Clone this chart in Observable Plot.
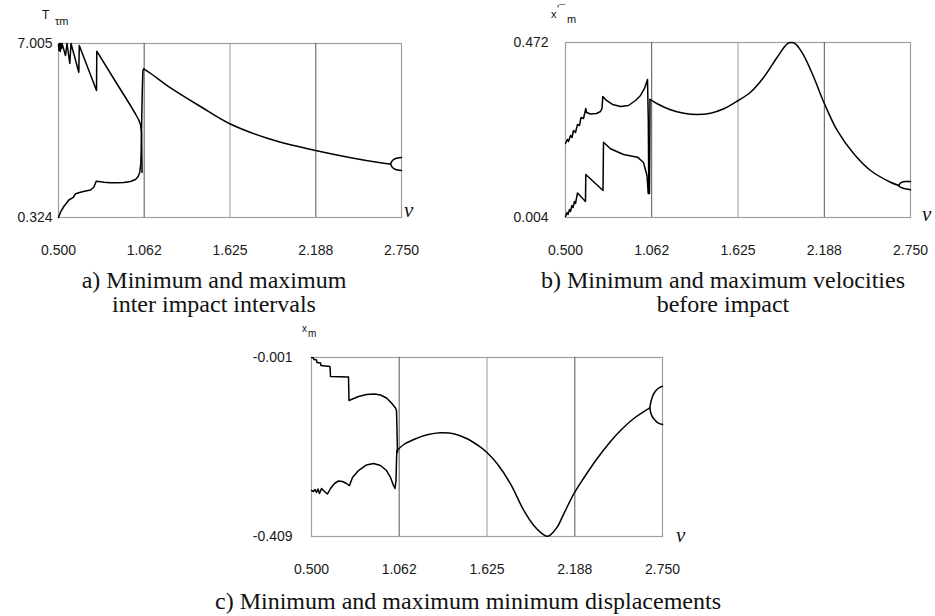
<!DOCTYPE html>
<html><head><meta charset="utf-8">
<script src="https://cdn.jsdelivr.net/npm/d3@7"></script>
<script src="https://cdn.jsdelivr.net/npm/@observablehq/plot@0.6"></script>
<style>
body{margin:0;background:#fff;}
#root{position:relative;width:935px;height:616px;overflow:hidden;font-family:"Liberation Sans",Arial,sans-serif;}
.panel{position:absolute;}
.cap{position:absolute;font-family:"Liberation Serif","Times New Roman",serif;font-size:24px;line-height:24px;text-align:center;white-space:nowrap;color:#111;}
.nu{position:absolute;font-family:"Liberation Serif",serif;font-style:italic;font-size:21px;line-height:21px;color:#111;}
.yl{position:absolute;font-family:"Liberation Sans",Arial,sans-serif;color:#111;white-space:nowrap;}
</style></head><body><div id="root"></div>
<script>
// ---- shared axis values ----
const xDomain = [0.5, 2.75];
const xTicks = [0.5, 1.062, 1.625, 2.188, 2.75];
const gridDark = [1.062, 2.188];
const gridLight = [1.625];

// ---- panel a: inter impact intervals T_tau_m ----
const aYDomain = [0.324, 7.005];
const aMaxLeft = [[0.5,6.967],[0.5039,6.736],[0.5079,7.005],[0.5118,6.698],[0.5157,7.005],[0.5197,6.813],[0.523,7.005],[0.5459,6.544],[0.5558,7.005],[0.5741,6.237],[0.582,7.005],[0.6332,5.903],[0.6364,6.928],[0.7493,5.2],[0.7512,6.71],[0.8739,5.546],[0.9723,4.624],[1.0051,4.298],[1.0248,4.087],[1.0379,3.895],[1.0445,3.588],[1.0464,2.897],[1.0484,2.052]];
const aMinLeft = [[0.5,0.324],[0.5131,0.5275],[0.5348,0.7464],[0.5571,0.9115],[0.5676,0.996],[0.5787,1.034],[0.5984,1.111],[0.6115,1.234],[0.6443,1.295],[0.6771,1.341],[0.7099,1.38],[0.7316,1.487],[0.7473,1.718],[0.7644,1.706],[0.7972,1.679],[0.8411,1.656],[0.8851,1.656],[0.9284,1.668],[0.9723,1.706],[1.0051,1.783],[1.0228,1.898],[1.0333,2.063],[1.0399,2.386],[1.0425,2.897],[1.0458,4.048],[1.0497,5.2],[1.0536,5.968],[1.0596,6.034]];
const aRight = [[1.0596,6.034],[1.1147,5.815],[1.213,5.392],[1.4315,4.586],[1.6237,3.922],[1.869,3.369],[2.186,2.897],[2.612,2.424],[2.678,2.378]];
const aBifUp = [[2.678,2.378],[2.691,2.513],[2.711,2.59],[2.75,2.628]];
const aBifLo = [[2.678,2.378],[2.691,2.244],[2.711,2.167],[2.75,2.129]];

// ---- panel b: velocities before impact x'-_m ----
const bYDomain = [0.004, 0.472];
const bMaxLeft = [[0.5,0.202],[0.513,0.213],[0.5196,0.2072],[0.5326,0.2233],[0.5424,0.2179],[0.5522,0.2367],[0.5652,0.2313],[0.5783,0.2527],[0.5913,0.25],[0.6011,0.2714],[0.6174,0.2688],[0.6324,0.2955],[0.637,0.2848],[0.663,0.2808],[0.7022,0.2821],[0.7283,0.2875],[0.738,0.2955],[0.7433,0.3276],[0.7674,0.3169],[0.8065,0.3062],[0.8587,0.3009],[0.9109,0.3035],[0.9565,0.3169],[0.9891,0.3303],[1.0152,0.349],[1.0348,0.3731],[1.04,0.2634],[1.0433,0.0682]];
const bMinLeft = [[0.5,0.0067],[0.5098,0.0174],[0.5163,0.012],[0.5261,0.0254],[0.5326,0.02],[0.5424,0.0361],[0.5489,0.0307],[0.5587,0.0468],[0.5652,0.0414],[0.5783,0.0695],[0.6304,0.0468],[0.6324,0.119],[0.7446,0.0762],[0.7478,0.2054],[0.7935,0.1877],[0.8783,0.1725],[0.9696,0.1653],[1.0087,0.1511],[1.0315,0.1163],[1.0394,0.0682],[1.0478,0.0682],[1.0511,0.3196]];
const bRight = [[1.0511,0.3196],[1.098,0.3081],[1.1848,0.292],[1.2715,0.2829],[1.3589,0.2795],[1.4457,0.2829],[1.5324,0.2947],[1.6263,0.3169],[1.7065,0.3391],[1.7933,0.3792],[1.8807,0.4327],[1.9459,0.4685],[1.972,0.472],[2.0,0.4685],[2.0541,0.4372],[2.1193,0.3792],[2.1846,0.3123],[2.272,0.2367],[2.3802,0.1744],[2.4891,0.1297],[2.6196,0.0984],[2.6737,0.0896]];
const bBifUp = [[2.6737,0.0896],[2.6815,0.095],[2.6978,0.0989],[2.7239,0.1003],[2.75,0.1003]];
const bBifLo = [[2.6737,0.0896],[2.6815,0.0856],[2.6978,0.0829],[2.7239,0.0802],[2.75,0.0781]];

// ---- panel c: minimum displacements x_m ----
const cYDomain = [-0.409, -0.001];
const cMaxLeft = [[0.5,-0.001],[0.5128,-0.0021],[0.516,-0.0056],[0.5321,-0.0067],[0.5353,-0.0124],[0.5577,-0.0135],[0.5609,-0.0192],[0.6186,-0.0215],[0.6218,-0.0443],[0.7372,-0.0454],[0.7404,-0.099],[0.7628,-0.0956],[0.8013,-0.0899],[0.8526,-0.0853],[0.9038,-0.0842],[0.9423,-0.0865],[0.9808,-0.0933],[1.0128,-0.1047],[1.0385,-0.1161],[1.0449,-0.1218],[1.0481,-0.1674],[1.0513,-0.2175]];
const cMinLeft = [[0.5,-0.3042],[0.5128,-0.3064],[0.5224,-0.3019],[0.5321,-0.3087],[0.5417,-0.3007],[0.5513,-0.311],[0.5641,-0.2996],[0.5833,-0.3064],[0.6026,-0.3121],[0.6218,-0.2996],[0.6474,-0.2882],[0.6731,-0.2825],[0.6987,-0.2836],[0.7244,-0.2882],[0.7436,-0.2928],[0.7628,-0.2745],[0.8013,-0.2586],[0.8526,-0.246],[0.8974,-0.2426],[0.9423,-0.2472],[0.9808,-0.2586],[1.0064,-0.2745],[1.0256,-0.2928],[1.0353,-0.2996],[1.0417,-0.2814],[1.0449,-0.2358],[1.0468,-0.2153],[1.0481,-0.213]];
const cRight = [[1.0481,-0.213],[1.0917,-0.1993],[1.1558,-0.1879],[1.2417,-0.1772],[1.3269,-0.1726],[1.4122,-0.1749],[1.4981,-0.1863],[1.5833,-0.2055],[1.6263,-0.2182],[1.6904,-0.2433],[1.7756,-0.2889],[1.8609,-0.3497],[1.925,-0.3839],[1.9891,-0.4051],[2.0109,-0.4083],[2.0321,-0.4051],[2.075,-0.3878],[2.1173,-0.3573],[2.1814,-0.3117],[2.2455,-0.2757],[2.3314,-0.2312],[2.4167,-0.1925],[2.4808,-0.1674],[2.5661,-0.14],[2.6686,-0.1157]];
const cBifUp = [[2.6686,-0.1157],[2.6763,-0.1013],[2.6859,-0.0899],[2.6987,-0.0808],[2.7179,-0.0728],[2.75,-0.0664]];
const cBifLo = [[2.6686,-0.1157],[2.6763,-0.1287],[2.6859,-0.1366],[2.6987,-0.1423],[2.7179,-0.1492],[2.75,-0.1537]];

const rows = (list) => list.flatMap(([name, arr]) => arr.map(([x, y]) => ({s: name, x, y})));
const fmt = d => d.toFixed(3);
const root = document.getElementById("root");

function panel(cfg) {
  const chart = Plot.plot({
    width: cfg.width, height: cfg.height,
    marginLeft: cfg.mL, marginRight: cfg.mR, marginTop: cfg.mT, marginBottom: cfg.mB,
    style: {fontFamily: '"Liberation Sans", Arial, sans-serif', fontSize: "14px", color: "#1a1a1a", background: "transparent", overflow: "visible"},
    x: {domain: xDomain},
    y: {domain: cfg.yDomain},
    marks: [
      Plot.frame({stroke: "#a0a0a0", strokeWidth: 1.2}),
      Plot.ruleX(gridDark, {stroke: "#555", strokeWidth: 1}),
      Plot.ruleX(gridLight, {stroke: "#999", strokeWidth: 1}),
      Plot.line(rows(cfg.jagged), {x: "x", y: "y", z: "s", stroke: "#000", strokeWidth: 1.5, curve: "linear"}),
      Plot.line(rows(cfg.smooth), {x: "x", y: "y", z: "s", stroke: "#000", strokeWidth: 1.5, curve: "catmull-rom"}),
      Plot.axisX({ticks: xTicks, tickFormat: fmt, tickSize: 0, tickPadding: 28, label: null}),
      Plot.axisY({ticks: cfg.yDomain, tickFormat: fmt, tickSize: 0, tickPadding: cfg.yPad, label: null})
    ]
  });
  chart.classList.add("panel");
  chart.style.left = cfg.left + "px";
  chart.style.top = cfg.top + "px";
  root.appendChild(chart);
}

panel({left: 0, top: 0, width: 430, height: 270, mL: 58, mR: 29, mT: 43, mB: 53, yDomain: aYDomain, yPad: 6,
  jagged: [["aMaxLeft", aMaxLeft], ["aMinLeft", aMinLeft]],
  smooth: [["aRight", aRight], ["aBifUp", aBifUp], ["aBifLo", aBifLo]]});
panel({left: 470, top: 0, width: 465, height: 270, mL: 95, mR: 25, mT: 42, mB: 53, yDomain: bYDomain, yPad: 17,
  jagged: [["bMaxLeft", bMaxLeft], ["bMinLeft", bMinLeft]],
  smooth: [["bRight", bRight], ["bBifUp", bBifUp], ["bBifLo", bBifLo]]});
panel({left: 230, top: 290, width: 470, height: 300, mL: 81, mR: 38, mT: 67, mB: 54, yDomain: cYDomain, yPad: 19,
  jagged: [["cMaxLeft", cMaxLeft], ["cMinLeft", cMinLeft]],
  smooth: [["cRight", cRight], ["cBifUp", cBifUp], ["cBifLo", cBifLo]]});

function addHTML(cls, html, left, top, extra) {
  const d = document.createElement("div");
  d.className = cls;
  d.innerHTML = html;
  d.style.left = left + "px";
  d.style.top = top + "px";
  if (extra) Object.assign(d.style, extra);
  root.appendChild(d);
}

// captions
addHTML("cap", "a) Minimum and maximum<br>inter impact intervals", 14, 268, {width: "400px"});
addHTML("cap", "b) Minimum and maximum velocities<br>before impact", 523, 268, {width: "400px"});
addHTML("cap", "c) Minimum and maximum minimum displacements", 168, 589, {width: "600px"});

// nu axis labels
addHTML("nu", "ν", 404, 200);
addHTML("nu", "ν", 922, 204);
addHTML("nu", "ν", 676, 525);

// y axis labels
addHTML("yl", "T", 42, 8.5, {fontSize: "12px", lineHeight: "12px"});
addHTML("yl", "τm", 55, 16, {fontSize: "11px", lineHeight: "11px"});
addHTML("yl", "x", 551, 9, {fontSize: "11px", lineHeight: "11px"});
addHTML("yl", "'¯", 557, 4, {fontSize: "11px", lineHeight: "11px"});
addHTML("yl", "m", 567, 14, {fontSize: "11px", lineHeight: "11px"});
addHTML("yl", "x", 302, 324, {fontSize: "10px", lineHeight: "10px"});
addHTML("yl", "m", 308, 329, {fontSize: "10px", lineHeight: "10px"});
</script></body></html>
